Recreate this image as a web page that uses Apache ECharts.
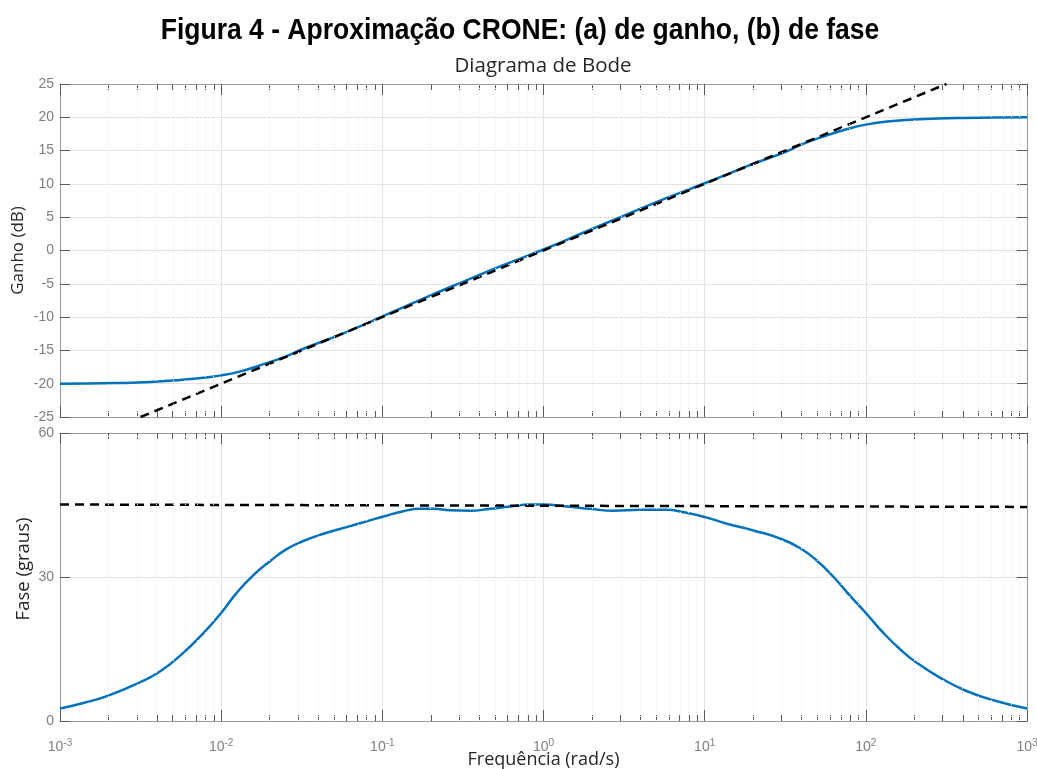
<!DOCTYPE html>
<html>
<head>
<meta charset="utf-8">
<script src="https://cdn.jsdelivr.net/npm/echarts@6/dist/echarts.min.js"></script>
<style>html,body{margin:0;padding:0;background:#fff}#c{width:1037px;height:769px}</style>
</head>
<body>
<div id="c"></div>
<script>
// ---- data (x values are log10 of frequency in rad/s) ----
const decadeExponents = [-3, -2, -1, 0, 1, 2, 3];
const gainTicks = [-25, -20, -15, -10, -5, 0, 5, 10, 15, 20, 25];
const phaseTicks = [0, 30, 60];

const gainLogW = [-3, -2.65, -2.44, -2.24, -2.11, -2.0, -1.88, -1.76, -1.61, -1.49, -1.30, -1.15, -1.0, -0.75, -0.5, -0.25, 0, 0.25, 0.5, 0.75, 1.0, 1.15, 1.30, 1.49, 1.61, 1.76, 1.88, 2.0, 2.15, 2.33, 2.6, 3.0];
const gainDb   = [-20.0, -19.9, -19.75, -19.4, -19.1, -18.75, -18.15, -17.25, -16.0, -14.75, -13.0, -11.5, -9.9, -7.25, -4.7, -2.2, 0.15, 2.7, 5.25, 7.75, 10.1, 11.55, 13.0, 14.7, 16.0, 17.3, 18.2, 18.9, 19.4, 19.7, 19.9, 20.0];

const gainAsymLogW = [-2.5, 2.5];
const gainAsymDb   = [-25, 25];

const phaseLogW = [-3, -2.855, -2.70, -2.52, -2.38, -2.235, -2.11, -2.0, -1.904, -1.80, -1.697, -1.594, -1.49, -1.366, -1.20, -1.077, -0.994, -0.87, -0.767, -0.684, -0.58, -0.456, -0.332, -0.208, -0.083, 0, 0.145, 0.29, 0.434, 0.6, 0.766, 0.869, 1.0, 1.138, 1.303, 1.469, 1.593, 1.697, 1.80, 1.904, 2.0, 2.11, 2.214, 2.317, 2.462, 2.628, 2.814, 3.0];
const phaseDeg  = [2.6, 3.75, 5.3, 7.8, 10.3, 14.2, 18.3, 22.5, 26.7, 30.4, 33.3, 35.8, 37.5, 39.0, 40.6, 41.8, 42.6, 43.7, 44.2, 44.2, 43.9, 43.8, 44.2, 44.7, 45.1, 45.1, 44.7, 44.2, 43.8, 44.0, 44.0, 43.5, 42.5, 41.1, 39.7, 38.0, 36.0, 33.4, 30.0, 26.0, 22.5, 18.3, 14.9, 12.1, 9.0, 6.2, 4.1, 2.6];

const phaseAsymLogW = [-3, 3];
const phaseAsymDeg  = [45.1, 44.6];

const mainTitle = 'Figura 4 - Aproximação CRONE: (a) de ganho, (b) de fase';
const plotTitle = 'Diagrama de Bode';
const xName = 'Frequência (rad/s)';
const gainName = 'Ganho (dB)';
const phaseName = 'Fase (graus)';

// ---- helpers ----
const minorVals = [];
for (let n = -3; n < 3; n++) for (let k = 2; k <= 9; k++) minorVals.push(n + Math.log10(k));
const zip = (a, b) => a.map((v, i) => [v, b[i]]);

const AXIS_COLOR = '#9a9a9a';
const TICK_COLOR = '#5a5a5a';
const LABEL_COLOR = '#7f7f7f';
const GRID_COLOR = '#e3e3e3';
const LABEL_FONT = '"Liberation Sans Narrow", "Liberation Sans", Arial, sans-serif';
const TEXT_FONT = '"Open Sans", "Noto Sans", sans-serif';

const grids = [
  { left: 60, right: 10, top: 84, height: 333, outerBoundsMode: 'none', containLabel: false },
  { left: 60, right: 10, top: 433, height: 288, outerBoundsMode: 'none', containLabel: false }
];

function xAxesFor(g, showLabels) {
  const base = { type: 'value', gridIndex: g, min: -3, max: 3, interval: 1 };
  return [
    Object.assign({}, base, {
      position: 'bottom',
      axisLine: { show: true, onZero: false, lineStyle: { color: AXIS_COLOR, width: 1 } },
      axisTick: { show: true, inside: true, length: 11, lineStyle: { color: TICK_COLOR } },
      splitLine: { show: true, lineStyle: { color: GRID_COLOR, width: 1 } },
      axisLabel: showLabels ? {
        show: true, margin: 15,
        formatter: v => '{b|10}{s|' + Math.round(v) + '}',
        rich: {
          b: { fontFamily: LABEL_FONT, fontSize: 14, color: LABEL_COLOR, verticalAlign: 'bottom', lineHeight: 18 },
          s: { fontFamily: LABEL_FONT, fontSize: 10, color: LABEL_COLOR, verticalAlign: 'bottom', lineHeight: 18, padding: [0, 0, 6, 0] }
        }
      } : { show: false },
      name: showLabels ? xName : '',
      nameLocation: 'middle', nameGap: 30, nameMoveOverlap: false,
      nameTextStyle: { fontFamily: TEXT_FONT, fontSize: 18, color: '#262626' }
    }),
    Object.assign({}, base, {
      position: 'top',
      axisLine: { show: true, onZero: false, lineStyle: { color: AXIS_COLOR, width: 1 } },
      axisTick: { show: true, inside: true, length: 11, lineStyle: { color: TICK_COLOR } },
      splitLine: { show: false }, axisLabel: { show: false }
    }),
    Object.assign({}, base, {
      position: 'bottom',
      axisLine: { show: false, onZero: false },
      axisTick: { show: true, inside: true, length: 6, customValues: minorVals, lineStyle: { color: TICK_COLOR } },
      splitLine: { show: false }, axisLabel: { show: false }
    }),
    Object.assign({}, base, {
      position: 'top',
      axisLine: { show: false, onZero: false },
      axisTick: { show: true, inside: true, length: 6, customValues: minorVals, lineStyle: { color: TICK_COLOR } },
      splitLine: { show: false }, axisLabel: { show: false }
    })
  ];
}

function yAxesFor(g, min, max, interval, name, nameGap, nameSize, namePadding) {
  return [
    {
      type: 'value', gridIndex: g, min, max, interval, position: 'left',
      axisLine: { show: true, onZero: false, lineStyle: { color: AXIS_COLOR } },
      axisTick: { show: true, inside: true, length: 10, lineStyle: { color: TICK_COLOR } },
      splitLine: { show: true, lineStyle: { color: GRID_COLOR } },
      axisLabel: { show: true, margin: 6, fontFamily: LABEL_FONT, fontSize: 14, color: LABEL_COLOR },
      name, nameLocation: 'middle', nameGap, nameMoveOverlap: false,
      nameTextStyle: { fontFamily: TEXT_FONT, fontSize: nameSize, color: '#262626', padding: namePadding }
    },
    {
      type: 'value', gridIndex: g, min, max, interval, position: 'right',
      axisLine: { show: true, onZero: false, lineStyle: { color: AXIS_COLOR } },
      axisTick: { show: true, inside: true, length: 10, lineStyle: { color: TICK_COLOR } },
      splitLine: { show: false }, axisLabel: { show: false }
    }
  ];
}

const xAxes = [].concat(xAxesFor(0, false), xAxesFor(1, true));
const yAxes = [].concat(
  yAxesFor(0, -25, 25, 5, gainName, 33, 17, [0, 0, 0, 0]),
  yAxesFor(1, 0, 60, 30, phaseName, 27, 18.5, [0, 0, 0, 16])
);

const minorMarkLine = {
  silent: true, symbol: 'none', label: { show: false },
  lineStyle: { type: [1, 3], color: '#e8e8e8', width: 1 },
  data: minorVals.map(v => ({ xAxis: v }))
};

const BLUE = '#0072BD';
const series = [
  { type: 'line', xAxisIndex: 0, yAxisIndex: 0, data: zip(gainLogW, gainDb), smooth: 0.5, showSymbol: false,
    lineStyle: { color: BLUE, width: 2.5 }, z: 3, markLine: minorMarkLine },
  { type: 'line', xAxisIndex: 0, yAxisIndex: 0, data: zip(gainAsymLogW, gainAsymDb), showSymbol: false,
    lineStyle: { color: '#000', width: 2.5, type: [9, 6] }, z: 4 },
  { type: 'line', xAxisIndex: 4, yAxisIndex: 2, data: zip(phaseLogW, phaseDeg), smooth: 0.5, showSymbol: false,
    lineStyle: { color: BLUE, width: 2.5 }, z: 3, markLine: minorMarkLine },
  { type: 'line', xAxisIndex: 4, yAxisIndex: 2, data: zip(phaseAsymLogW, phaseAsymDeg), showSymbol: false,
    lineStyle: { color: '#000', width: 2.5, type: [9, 6] }, z: 4 }
];

const chart = echarts.init(document.getElementById('c'), null, { renderer: 'canvas' });
chart.setOption({
  animation: false,
  backgroundColor: '#fff',
  grid: grids,
  xAxis: xAxes,
  yAxis: yAxes,
  series,
  graphic: [
    { type: 'text', x: 520, y: 31, scaleY: 1.08,
      style: { text: mainTitle, font: 'bold 26.5px "Liberation Sans", Arial, sans-serif', fill: '#000', textAlign: 'center', textVerticalAlign: 'middle' } },
    { type: 'text', x: 543, y: 66,
      style: { text: plotTitle, font: '20.5px "Open Sans", "Noto Sans", sans-serif', fill: '#262626', textAlign: 'center', textVerticalAlign: 'middle' } }
  ]
});
</script>
</body>
</html>
